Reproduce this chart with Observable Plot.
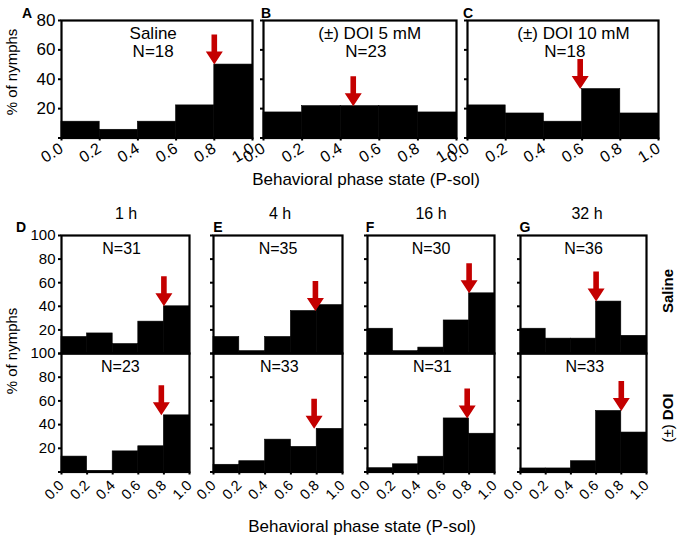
<!DOCTYPE html>
<html>
<head>
<meta charset="utf-8">
<script src="https://cdn.jsdelivr.net/npm/d3@7"></script>
<script src="https://cdn.jsdelivr.net/npm/@observablehq/plot@0.6"></script>
<style>
  html, body { margin: 0; padding: 0; background: #fff; }
  #fig { position: relative; width: 680px; height: 537px; overflow: hidden; background: #fff;
         font-family: "Liberation Sans", Arial, Helvetica, sans-serif; color: #000; }
  .lab { position: absolute; white-space: nowrap; line-height: 1; }
</style>
</head>
<body>
<div id="fig"></div>
<script>
// ---------------- data ----------------
const binStarts = [0, 0.2, 0.4, 0.6, 0.8];
const binWidth = 0.2;
const xTicks = [0, 0.2, 0.4, 0.6, 0.8, 1.0];
const topYTicks = [0, 20, 40, 60, 80];
const bottomYTicks = [0, 20, 40, 60, 80, 100];

const topPanels = ["A", "B", "C"];
const topTitles = ["Saline", "(±) DOI 5 mM", "(±) DOI 10 mM"];
const topN = [18, 23, 18];
const topValues = [
  [11.1, 5.6, 11.1, 22.2, 50.0],
  [17.4, 21.7, 21.7, 21.7, 17.4],
  [22.2, 16.7, 11.1, 33.3, 16.7]
];
const topArrowX = [0.8, 0.465, 0.59];
const topArrowY = [50.0, 21.7, 33.3];

const times = ["1 h", "4 h", "16 h", "32 h"];
const bottomPanels = ["D", "E", "F", "G"];
const rowLabels = ["Saline", "(±) DOI"];
const salineN = [31, 35, 30, 36];
const doiN = [23, 33, 31, 33];
const salineValues = [
  [14, 17, 8, 27, 40],
  [14, 2, 14, 36, 41],
  [21, 2, 5, 28, 51],
  [21, 12.6, 12.6, 44, 15]
];
const doiValues = [
  [13.0, 1.0, 17.4, 21.7, 47.8],
  [6.1, 9.1, 27.3, 21.2, 36.4],
  [3.2, 6.5, 12.9, 45.2, 32.3],
  [3.0, 3.0, 9.1, 51.5, 33.3]
];
const salineArrowX = [0.8, 0.79, 0.8, 0.6];
const salineArrowY = [40, 36, 51, 44];
const doiArrowX = [0.78, 0.78, 0.785, 0.8];
const doiArrowY = [47.8, 36.4, 45.2, 51.5];

const xLabel = "Behavioral phase state (P-sol)";
const yLabel = "% of nymphs";

// ---------------- drawing ----------------
const fig = document.getElementById("fig");
const FONT = "'Liberation Sans', Arial, Helvetica, sans-serif";
const RED = "#c40000";

const arrowShape = {
  draw(ctx, l) {
    const hw = 2.8, hh = 8.5, hl = 13;
    ctx.moveTo(-hw, 0);
    ctx.lineTo(-hw, -(l - hl));
    ctx.lineTo(-hh, -(l - hl));
    ctx.lineTo(0, -l);
    ctx.lineTo(hh, -(l - hl));
    ctx.lineTo(hw, -(l - hl));
    ctx.lineTo(hw, 0);
    ctx.closePath();
  }
};

function panel(o) {
  const bins = binStarts.map((x1, i) => ({x1, x2: x1 + binWidth, y0: 0, v: o.values[i]}));
  const marks = [
    Plot.rect(bins, {x1: "x1", x2: "x2", y1: "y0", y2: "v", fill: "black", stroke: "black", strokeWidth: 0.6}),
    Plot.frame({stroke: "black", strokeWidth: 2.2}),
    Plot.axisY({
      ticks: o.yTicks, tickSize: 3, tickPadding: 3, strokeWidth: 2,
      fontSize: o.yFont, fill: "black",
      tickFormat: o.yLabels ? (d => d === 0 ? "" : String(d)) : (() => "")
    }),
    Plot.vector([{x: o.ax, y: o.ay}], {
      x: "x", y: "y", length: 30, rotate: 180, anchor: "end",
      shape: arrowShape, fill: RED, stroke: "none"
    }),
    Plot.text(o.texts, {x: "x", y: "y", text: "t", fontSize: o.textFont, fill: "black", lineAnchor: "middle"})
  ];
  if (o.xAxis) {
    marks.push(Plot.axisX({
      ticks: xTicks, tickFormat: d3.format(".1f"), tickSize: 3, strokeWidth: 2,
      tickRotate: o.rot, fontSize: o.xFont, tickPadding: o.xPad, fill: "black"
    }));
  }
  const svg = Plot.plot({
    width: o.w, height: o.h, margin: 0,
    x: {domain: [0, 1], axis: null},
    y: {domain: [0, o.yMax], axis: null},
    style: `overflow:visible;background:transparent;font-family:${FONT};color:black;`,
    marks
  });
  svg.style.position = "absolute";
  svg.style.left = o.left + "px";
  svg.style.top = o.top + "px";
  fig.appendChild(svg);
}

function label(text, x, y, {size = 16, bold = false, rotate = 0, html = false} = {}) {
  const d = document.createElement("div");
  d.className = "lab";
  if (html) d.innerHTML = text; else d.textContent = text;
  d.style.left = x + "px";
  d.style.top = y + "px";
  d.style.fontSize = size + "px";
  d.style.fontWeight = bold ? "bold" : "normal";
  d.style.transform = `translate(-50%,-50%) rotate(${rotate}deg)`;
  fig.appendChild(d);
}

// Top row layout
const topLeft = [61, 263, 467];
const topW = [191, 193, 191];
const titleX = [0.48, 0.55, 0.555];
const nX = [0.48, 0.53, 0.51];
topPanels.forEach((p, i) => {
  panel({
    values: topValues[i], yMax: 80, yTicks: topYTicks, yLabels: i === 0,
    left: topLeft[i], top: 20, w: topW[i], h: 117.5,
    ax: topArrowX[i], ay: topArrowY[i],
    texts: [{x: titleX[i], y: 71, t: topTitles[i]}, {x: nX[i], y: 59, t: "N=" + topN[i]}],
    textFont: 17, yFont: 17, xAxis: true, rot: -32, xFont: 16, xPad: 6
  });
});
label("A", 27, 13, {size: 14, bold: true});
label("B", 266, 13, {size: 14, bold: true});
label("C", 468, 13, {size: 14, bold: true});
label(xLabel, 366, 179, {size: 17});
label(yLabel, 11, 72, {size: 15, rotate: -90});

// Bottom grid layout
const botLeft = [61, 213, 367, 520];
const botW = [128, 129, 127, 126];
const timeX = [126, 280, 431, 587];
const letterX = [21, 218, 370, 525];
bottomPanels.forEach((p, i) => {
  panel({
    values: salineValues[i], yMax: 100, yTicks: bottomYTicks, yLabels: i === 0,
    left: botLeft[i], top: 235, w: botW[i], h: 118,
    ax: salineArrowX[i], ay: salineArrowY[i],
    texts: [{x: i === 0 ? 0.47 : 0.5, y: 89, t: "N=" + salineN[i]}],
    textFont: 16, yFont: 15, xAxis: false
  });
  panel({
    values: doiValues[i], yMax: 100, yTicks: bottomYTicks, yLabels: i === 0,
    left: botLeft[i], top: 353, w: botW[i], h: 118.5,
    ax: doiArrowX[i], ay: doiArrowY[i],
    texts: [{x: i === 0 ? 0.46 : 0.51, y: 89, t: "N=" + doiN[i]}],
    textFont: 16, yFont: 15, xAxis: true, rot: -45, xFont: 14.5, xPad: 8
  });
  label(times[i], timeX[i], 214, {size: 16});
  label(p, letterX[i], 227, {size: 14, bold: true});
});
label(rowLabels[0], 667, 291, {size: 15, bold: true, rotate: -90});
label("(±) <b>DOI</b>", 667, 418, {size: 15, rotate: -90, html: true});
label(xLabel, 362, 526, {size: 17});
label(yLabel, 11, 351, {size: 15, rotate: -90});
</script>
</body>
</html>
